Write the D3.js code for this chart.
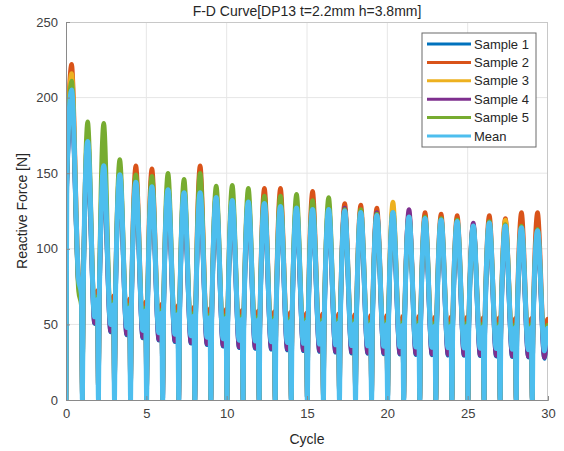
<!DOCTYPE html>
<html>
<head>
<meta charset="utf-8">
<script src="https://cdn.jsdelivr.net/npm/d3@7"></script>
<style>
  html, body { margin: 0; padding: 0; background: #fff; }
  svg { display: block; font-family: "Liberation Sans", Arial, Helvetica, sans-serif; }
</style>
</head>
<body>
<svg id="chart" width="564" height="451"></svg>
<script>
// ---------------- data ----------------
const seriesNames = ["Sample 1", "Sample 2", "Sample 3", "Sample 4", "Sample 5", "Mean"];
const seriesColors = ["#0072BD", "#D95319", "#EDB120", "#7E2F8E", "#77AC30", "#4DBEEE"];
const xTicks = [0, 5, 10, 15, 20, 25, 30];
const yTicks = [0, 50, 100, 150, 200, 250];
const cycles = d3.range(30);
// phase (fraction of a cycle) of the characteristic points of each loading cycle
const phaseNotch = 0.02, phaseReload = 0.07, phasePeak = 0.35, phaseValley = 0.78, phaseBump = 0.96;

// peak force per cycle
const s1Peak = [195,158,145,142,137,134,132,130,130,128,126,125,124,122,121,120,120,119,118,117,118,116,115,114,113,113,112,110,109,107];
const s2Peak = [222,174,158,152,155,153,141,139,155,136,134,133,140,140,129,138,128,130,129,127,126,123,124,123,122,116,122,120,124,124];
const s3Peak = [216,165,150,146,141,138,136,134,134,131,130,129,128,126,125,124,124,124,123,121,131,120,119,118,117,114,116,119,112,110];
const s4Peak = [200,166,150,146,141,138,135,133,133,131,129,128,127,126,124,124,123,127,122,124,121,126,118,117,116,117,115,113,111,110];
const s5Peak = [211,184,183,159,149,148,150,146,150,141.5,142,140,135,135,136,132,134,126,126,123,124,121,121,120,119,115,118,116,115,113];
const meanPeak = [205,171,155,149,144,141,139,137,137,134,132,131,130,128,127,126,126,125,124,122,124,121,120,119,118,115,117,115,114,112];

// minimum force per cycle (after unloading)
const s1Valley = [76,50.5,45,43,41,39.5,38.5,37.5,36.5,35.5,34.5,34,33.5,33,32.5,32,31.5,31,30.8,30.5,30.3,30,29.8,29.6,29.4,29.2,29,28.6,28.2,27.5];
const s2Valley = [84,58,53,51,49,47.5,46.5,45.5,44.5,43.5,42.5,42,41.5,41,40.5,40,39.5,39,38.8,38.5,38.3,38,37.8,37.6,37.4,37.2,37,36.6,36.2,35.5];
const s3Valley = [81,56,51,49,47,45.5,44.5,43.5,42.5,41.5,40.5,40,39.5,39,38.5,38,37.5,37,36.8,36.5,36.3,36,35.8,35.6,35.4,35.2,35,34.6,34.2,33.5];
const s4Valley = [77,51,45.5,43.5,41.5,40,39,38,37,36,35,34.5,34,33.5,33,32.5,32,31.5,31.3,31,30.8,30.5,30.3,30.1,29.9,29.7,29.5,29.1,28.7,28];
const s5Valley = [72,57,52,50,48,46.5,45.5,44.5,43.5,42.5,41.5,41,40.5,40,39.5,39,38.5,38,37.8,37.5,37.3,37,36.8,36.6,36.4,36.2,36,35.6,35.2,34.5];
const meanValley = [80,55,50,48,46,44.5,43.5,42.5,41.5,40.5,39.5,39,38.5,38,37.5,37,36.5,36,35.8,35.5,35.3,35,34.8,34.6,34.4,34.2,34,33.6,33.2,32.5];

// small re-loading bump at the end of each cycle
const s1Bump = [68,63.5,60,58,56,54.5,53.5,52.5,51.5,51,50.5,50,49.5,49,48.5,48,48,47.5,47,47,46.5,46.5,46,46,46,45.5,45.5,45,45,44.5];
const s2Bump = [75,72.5,69,67,65,63.5,62.5,61.5,60.5,60,59.5,59,58.5,58,57.5,57,57,56.5,56,56,55.5,55.5,55,55,55,54.5,54.5,54,54,53.5];
const s3Bump = [71,67.5,64,62,60,58.5,57.5,56.5,55.5,55,54.5,54,53.5,53,52.5,52,52,51.5,51,51,50.5,50.5,50,50,50,49.5,49.5,49,49,48.5];
const s4Bump = [69,64.5,61,59,57,55.5,54.5,53.5,52.5,52,51.5,51,50.5,50,49.5,49,49,48.5,48,48,47.5,47.5,47,47,47,46.5,46.5,46,46,45.5];
const s5Bump = [62,68.5,65,63,61,59.5,58.5,57.5,56.5,56,55.5,55,54.5,54,53.5,53,53,52.5,52,52,51.5,51.5,51,51,51,50.5,50.5,50,50,49.5];
const meanBump = [70,66.5,63,61,59,57.5,56.5,55.5,54.5,54,53.5,53,52.5,52,51.5,51,51,50.5,50,50,49.5,49.5,49,49,49,48.5,48.5,48,48,47.5];

// force reached right after the very first loading starts
const firstReload = [140, 150, 148, 142, 145, 145];

const peaks = [s1Peak, s2Peak, s3Peak, s4Peak, s5Peak, meanPeak];
const valleys = [s1Valley, s2Valley, s3Valley, s4Valley, s5Valley, meanValley];
const bumps = [s1Bump, s2Bump, s3Bump, s4Bump, s5Bump, meanBump];

// ---------------- chart ----------------
const W = 564, H = 451;
const margin = { top: 22, right: 16, bottom: 51, left: 66 };
const iw = W - margin.left - margin.right;
const ih = H - margin.top - margin.bottom;
const svg = d3.select("#chart");

const x = d3.scaleLinear().domain([0, 30]).range([0, iw]);
const y = d3.scaleLinear().domain([0, 250]).range([ih, 0]);

const g = svg.append("g").attr("transform", `translate(${margin.left},${margin.top})`);

// grid
g.append("g").selectAll("line").data(xTicks.slice(1, -1)).join("line")
  .attr("x1", d => x(d)).attr("x2", d => x(d)).attr("y1", 0).attr("y2", ih)
  .attr("stroke", "#e6e6e6").attr("stroke-width", 1);
g.append("g").selectAll("line").data(yTicks.slice(1, -1)).join("line")
  .attr("y1", d => y(d)).attr("y2", d => y(d)).attr("x1", 0).attr("x2", iw)
  .attr("stroke", "#e6e6e6").attr("stroke-width", 1);

// box top/right
g.append("line").attr("x1", 0).attr("x2", iw).attr("y1", 0.5).attr("y2", 0.5).attr("stroke", "#c8c8c8");
g.append("line").attr("x1", iw - 0.5).attr("x2", iw - 0.5).attr("y1", 0).attr("y2", ih).attr("stroke", "#c8c8c8");

// build series points
function buildSeries(si) {
  const pts = [[0, 0], [0.05, firstReload[si]]];
  cycles.forEach(k => {
    if (k > 0) {
      pts.push([k + phaseNotch, 0]);
      pts.push([k + phaseReload, bumps[si][k - 1]]);
    }
    pts.push([k + phasePeak, peaks[si][k]]);
    pts.push([k + phaseValley, valleys[si][k]]);
    pts.push([k + phaseBump, bumps[si][k]]);
  });
  pts.push([30, bumps[si][29] - 1]);
  return pts;
}

const line = d3.line().x(d => x(d[0])).y(d => y(d[1])).curve(d3.curveMonotoneX);

svg.append("clipPath").attr("id", "clip").append("rect")
  .attr("x", 0).attr("y", -10).attr("width", iw).attr("height", ih + 10);

const lines = g.append("g").attr("clip-path", "url(#clip)");
seriesNames.forEach((name, si) => {
  lines.append("path")
    .datum(buildSeries(si))
    .attr("fill", "none")
    .attr("stroke", seriesColors[si])
    .attr("stroke-width", si === 5 ? 5 : 4.5)
    .attr("stroke-linejoin", "round")
    .attr("stroke-linecap", "round")
    .attr("d", line);
});

// axes
const axisColor = "#404040";
const xAxis = g.append("g").attr("transform", `translate(0,${ih})`)
  .call(d3.axisBottom(x).tickValues(xTicks).tickSize(-4).tickPadding(9));
const yAxis = g.append("g")
  .call(d3.axisLeft(y).tickValues(yTicks).tickSize(-4).tickPadding(8));
[xAxis, yAxis].forEach(a => {
  a.select(".domain").attr("stroke", "#8a8a8a");
  a.selectAll(".tick line").attr("stroke", "#8a8a8a");
  a.selectAll(".tick text").attr("fill", axisColor).style("font-size", "13px")
    .style("font-family", "'Liberation Sans', Arial, sans-serif");
});

// titles
svg.append("text").attr("x", margin.left + iw / 2).attr("y", 16)
  .attr("text-anchor", "middle").attr("fill", "#262626").style("font-size", "14px")
  .text("F-D Curve[DP13 t=2.2mm h=3.8mm]");
svg.append("text").attr("x", margin.left + iw / 2).attr("y", 444)
  .attr("text-anchor", "middle").attr("fill", "#262626").style("font-size", "14px")
  .text("Cycle");
svg.append("text")
  .attr("transform", `translate(27,${margin.top + ih / 2}) rotate(-90)`)
  .attr("text-anchor", "middle").attr("fill", "#262626").style("font-size", "14px")
  .text("Reactive Force [N]");

// legend
const lg = svg.append("g").attr("transform", "translate(422,33)");
lg.append("rect").attr("x", 0).attr("y", 0).attr("width", 114).attr("height", 114)
  .attr("fill", "#fff").attr("stroke", "#6a6a6a").attr("stroke-width", 1);
seriesNames.forEach((name, i) => {
  const ly = 11 + i * 18.4;
  lg.append("line").attr("x1", 5).attr("x2", 49).attr("y1", ly).attr("y2", ly)
    .attr("stroke", seriesColors[i]).attr("stroke-width", 3);
  lg.append("text").attr("x", 52).attr("y", ly + 4.5).attr("fill", "#262626")
    .style("font-size", "13px").text(name);
});
</script>
</body>
</html>
